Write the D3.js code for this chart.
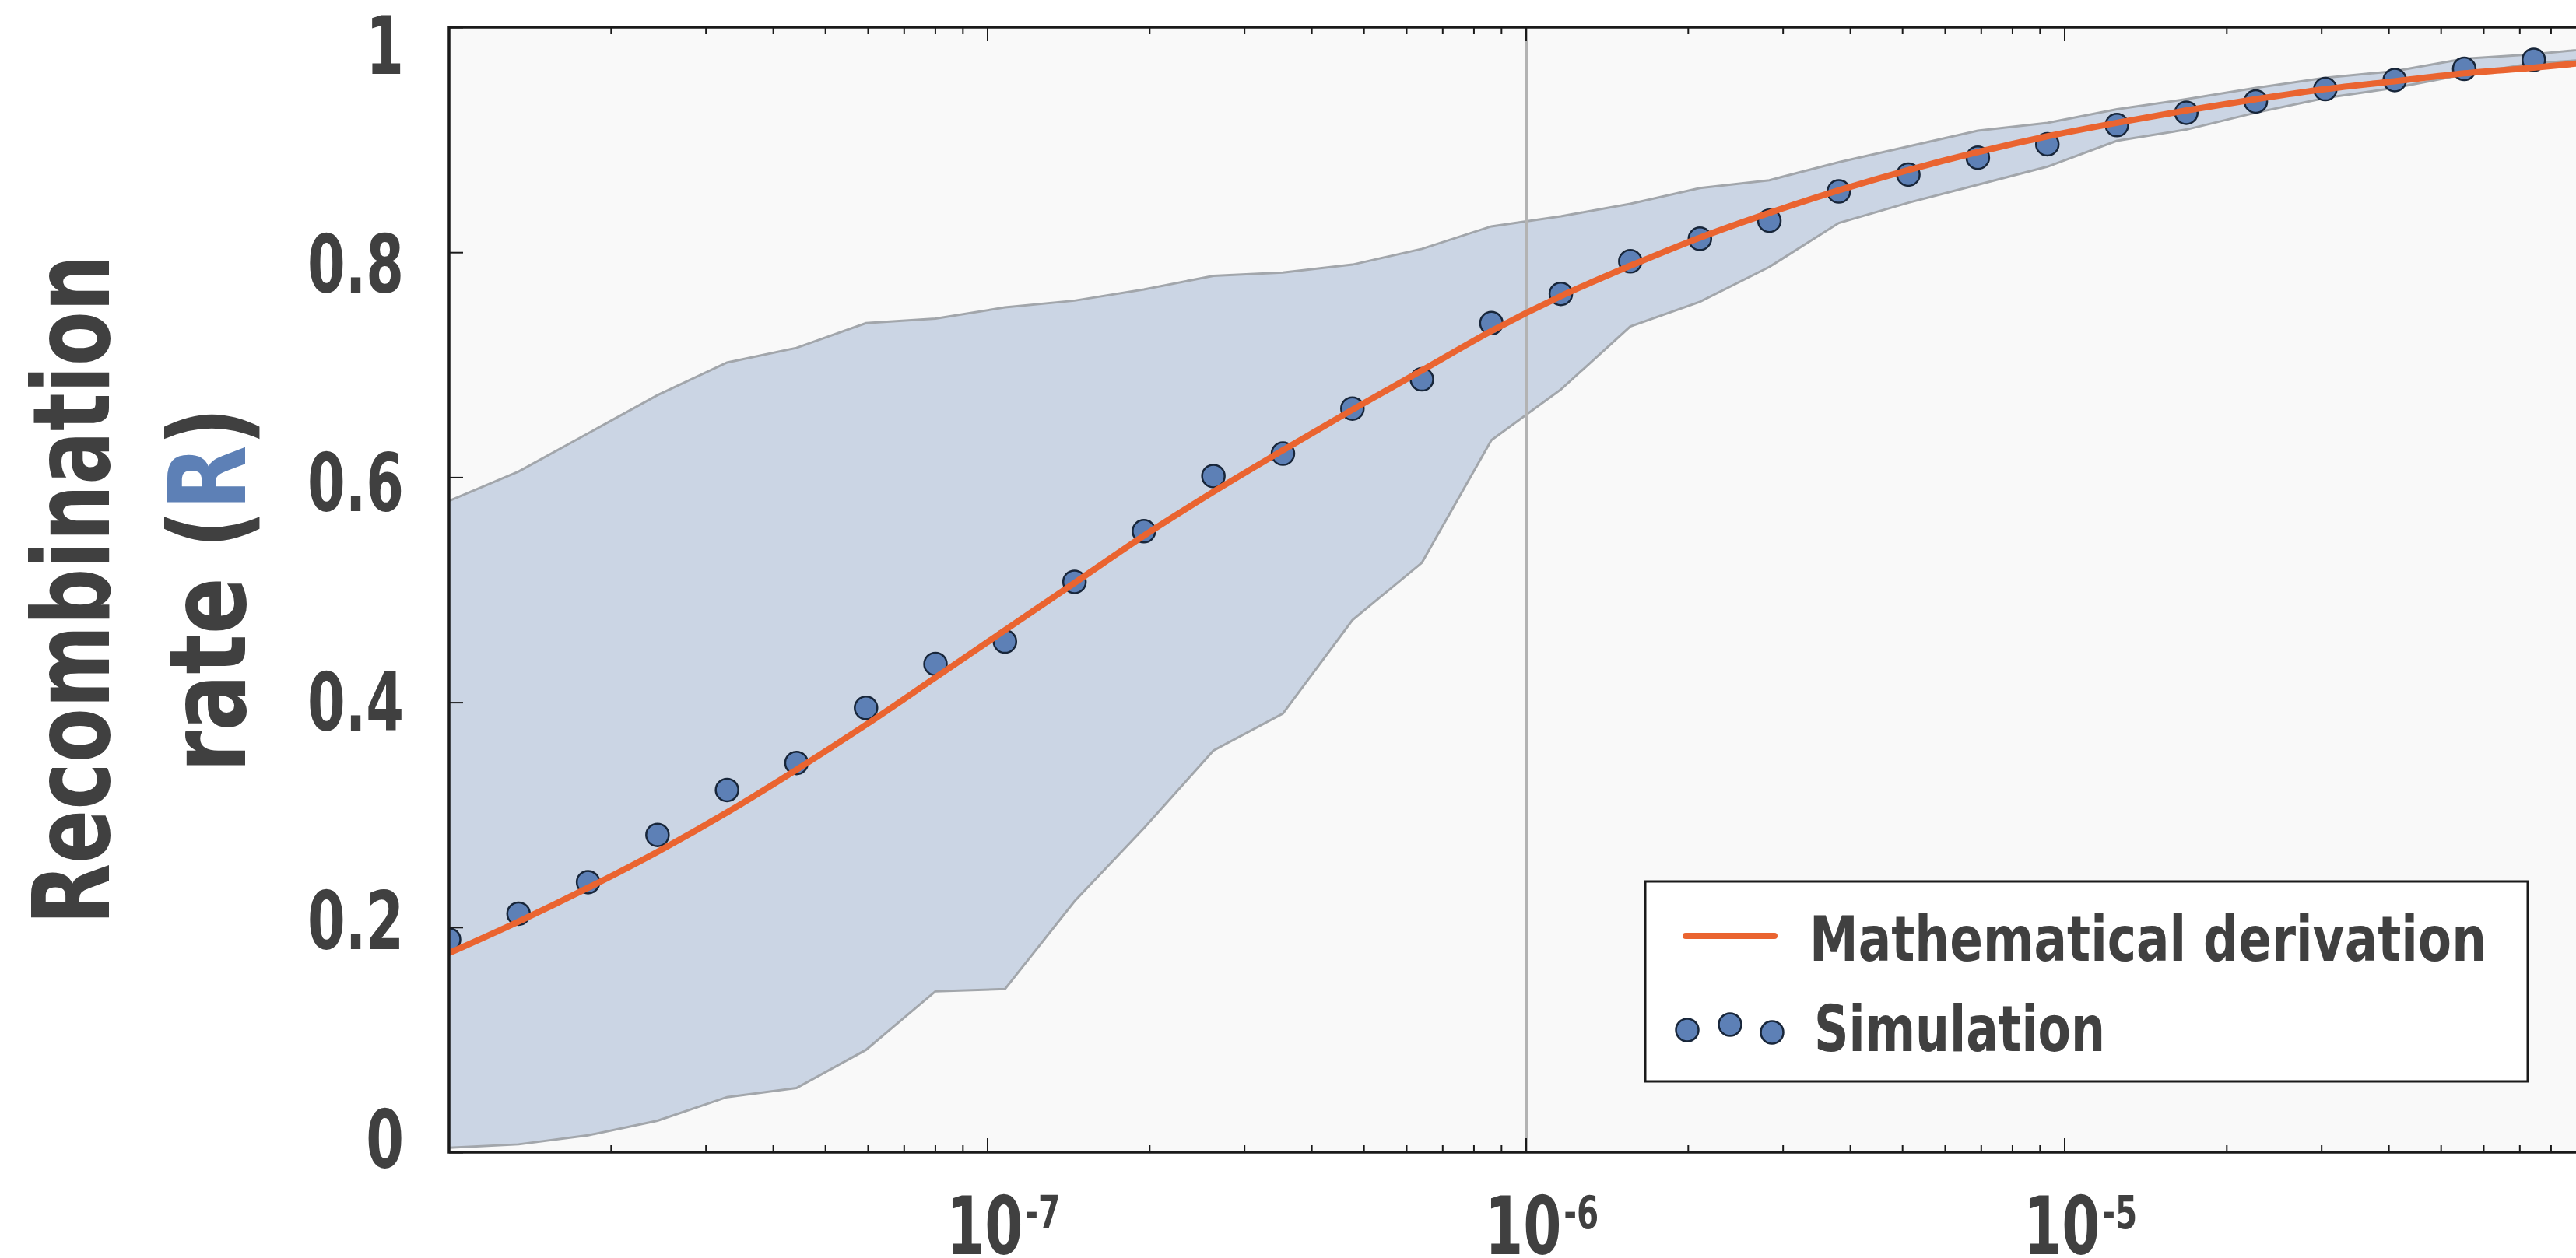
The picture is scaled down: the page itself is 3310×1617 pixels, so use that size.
<html lang="en">
<head>
  <meta charset="UTF-8">
  <title>Recombination rate</title>
  <script src="https://d3js.org/d3.v7.min.js"></script>
</head>
<style>
  body { margin: 0; background: white; }
  text { font-family: "DejaVu Sans", sans-serif; font-weight: bold; fill: #404040; }
</style>
<body>
  <svg class="graph" width="3310" height="1617"></svg>
  <script>
    // x positions of the simulated points (log spaced)
    const xValues = [1.000e-8, 1.346e-8, 1.812e-8, 2.438e-8, 3.282e-8, 4.417e-8, 5.946e-8, 8.003e-8,
      1.077e-7, 1.450e-7, 1.951e-7, 2.626e-7, 3.535e-7, 4.758e-7, 6.404e-7, 8.619e-7,
      1.160e-6, 1.561e-6, 2.102e-6, 2.829e-6, 3.807e-6, 5.125e-6, 6.898e-6, 9.285e-6,
      1.250e-5, 1.682e-5, 2.264e-5, 3.047e-5, 4.101e-5, 5.520e-5, 7.430e-5, 1.000e-4];
    const simValues = [0.189, 0.212, 0.240, 0.282, 0.322, 0.346, 0.395, 0.434,
      0.454, 0.507, 0.552, 0.601, 0.621, 0.661, 0.687, 0.737,
      0.763, 0.792, 0.812, 0.828, 0.854, 0.869, 0.884, 0.896,
      0.913, 0.924, 0.934, 0.945, 0.953, 0.963, 0.971, 0.979];
    const mathValues = [0.177, 0.205, 0.235, 0.267, 0.302, 0.340, 0.380, 0.422,
      0.464, 0.506, 0.548, 0.587, 0.624, 0.660, 0.695, 0.730,
      0.761, 0.788, 0.813, 0.835, 0.855, 0.873, 0.889, 0.903,
      0.915, 0.926, 0.936, 0.945, 0.952, 0.959, 0.964, 0.970];
    const upperValues = [0.579, 0.605, 0.639, 0.673, 0.702, 0.715, 0.737, 0.741,
      0.751, 0.757, 0.767, 0.779, 0.782, 0.789, 0.803, 0.823,
      0.832, 0.843, 0.857, 0.864, 0.880, 0.894, 0.908, 0.915,
      0.927, 0.936, 0.946, 0.955, 0.961, 0.972, 0.976, 0.982];
    const lowerValues = [0.004, 0.007, 0.015, 0.028, 0.049, 0.057, 0.091, 0.143,
      0.145, 0.223, 0.288, 0.357, 0.390, 0.473, 0.524, 0.633,
      0.678, 0.734, 0.756, 0.787, 0.826, 0.844, 0.860, 0.876,
      0.899, 0.909, 0.924, 0.937, 0.946, 0.958, 0.968, 0.972];

    const yTickValues = [0, 0.2, 0.4, 0.6, 0.8, 1];
    const yTickLabels = ["0", "0.2", "0.4", "0.6", "0.8", "1"];
    const xTickValues = [1e-7, 1e-6, 1e-5];
    const xTickBases = ["10", "10", "10"];
    const xTickExponents = ["-7", "-6", "-5"];
    const markerX = 1e-6;
    const legendLabels = ["Mathematical derivation", "Simulation"];

    const svg = d3.select('svg.graph');
    const margins = { top: 35, left: 577, bottom: 136 };
    const plotRight = 3345; // plot continues past the picture edge
    const plotBottom = 1617 - margins.bottom;

    const xScale = d3.scaleLog().domain([1e-8, 1e-4]).range([margins.left, plotRight]);
    const yScale = d3.scaleLinear().domain([0, 1]).range([plotBottom, margins.top]);
    // the tick labels sit a little tighter than the ticks
    const yLabelScale = d3.scaleLinear().domain([0, 1]).range([1464, 58]);

    // the original font is a condensed one, squeeze DejaVu to match
    function squeeze(sel, factor) {
      sel.each(function () {
        const w = this.getComputedTextLength();
        d3.select(this).attr('textLength', w * factor).attr('lengthAdjust', 'spacingAndGlyphs');
      });
    }

    const data = xValues.map((x, i) => ({ x: x, sim: simValues[i], math: mathValues[i], lo: lowerValues[i], hi: upperValues[i] }));

    svg.append('defs').append('clipPath').attr('id', 'plotclip')
      .append('rect')
      .attr('x', margins.left).attr('y', margins.top)
      .attr('width', plotRight - margins.left).attr('height', plotBottom - margins.top);

    svg.append('rect')
      .attr('x', margins.left).attr('y', margins.top)
      .attr('width', plotRight - margins.left).attr('height', plotBottom - margins.top)
      .attr('fill', '#f9f9f9');

    const chartArea = svg.append('g').attr('clip-path', 'url(#plotclip)');

    //band
    const band = d3.area()
      .x(d => xScale(d.x))
      .y0(d => yScale(d.lo))
      .y1(d => yScale(d.hi));
    chartArea.append('path').datum(data)
      .attr('d', band)
      .attr('fill', '#cbd5e4');
    ['lo', 'hi'].forEach(k => {
      chartArea.append('path').datum(data)
        .attr('d', d3.line().x(d => xScale(d.x)).y(d => yScale(d[k])))
        .attr('fill', 'none')
        .attr('stroke', '#a2a6ab')
        .attr('stroke-width', 3);
    });

    //vertical marker
    chartArea.append('line')
      .attr('x1', xScale(markerX)).attr('x2', xScale(markerX))
      .attr('y1', margins.top).attr('y2', plotBottom)
      .attr('stroke', '#b3b3b3')
      .attr('stroke-width', 4);

    //simulation points
    chartArea.selectAll('circle.sim').data(data).enter()
      .append('circle')
      .attr('class', 'sim')
      .attr('cx', d => xScale(d.x))
      .attr('cy', d => yScale(d.sim))
      .attr('r', 14.5)
      .attr('fill', '#5d80b6')
      .attr('stroke', '#18263a')
      .attr('stroke-width', 2.5);

    //math curve
    chartArea.append('path').datum(data)
      .attr('d', d3.line().curve(d3.curveMonotoneX).x(d => xScale(d.x)).y(d => yScale(d.math)))
      .attr('fill', 'none')
      .attr('stroke', '#ea6430')
      .attr('stroke-width', 8);

    //axes
    const axisColor = '#1a1a1a';
    const majorX = xScale.ticks().filter(v => Math.abs(Math.log10(v) - Math.round(Math.log10(v))) < 1e-9);
    const minorX = xScale.ticks().filter(v => majorX.indexOf(v) < 0);

    function drawXTicks(y, dir) {
      const g = svg.append('g');
      g.selectAll('line.major').data(majorX).enter().append('line')
        .attr('x1', d => xScale(d)).attr('x2', d => xScale(d))
        .attr('y1', y).attr('y2', y + dir * 18)
        .attr('stroke', axisColor).attr('stroke-width', 2);
      g.selectAll('line.minor').data(minorX).enter().append('line')
        .attr('x1', d => xScale(d)).attr('x2', d => xScale(d))
        .attr('y1', y).attr('y2', y + dir * 9)
        .attr('stroke', axisColor).attr('stroke-width', 2);
    }
    drawXTicks(plotBottom, -1);
    drawXTicks(margins.top, 1);

    const leftAxis = d3.axisRight(yScale).tickValues(yTickValues).tickSize(18).tickFormat('');
    svg.append('g')
      .attr('transform', `translate(${margins.left},0)`)
      .call(leftAxis)
      .call(g => g.select('.domain').remove())
      .selectAll('line').attr('stroke', axisColor).attr('stroke-width', 2);

    svg.append('path')
      .attr('d', `M${plotRight},${margins.top}H${margins.left}V${plotBottom}H${plotRight}`)
      .attr('fill', 'none')
      .attr('stroke', axisColor)
      .attr('stroke-width', 3.5);

    //y labels
    svg.selectAll('text.ylab').data(yTickValues).enter()
      .append('text')
      .attr('class', 'ylab')
      .attr('x', 519)
      .attr('y', d => yLabelScale(d) + 37)
      .attr('text-anchor', 'end')
      .attr('font-size', 103)
      .text((d, i) => yTickLabels[i])
      .call(squeeze, 0.68);

    //x labels: 10 with a raised exponent, one text each
    xTickValues.forEach((v, i) => {
      const x = xScale(v);
      const t = svg.append('text')
        .attr('x', x - 53).attr('y', 1612)
        .attr('font-size', 103);
      t.append('tspan').text(xTickBases[i]);
      t.append('tspan')
        .attr('dx', 4).attr('dy', -33)
        .attr('font-size', 59)
        .text(xTickExponents[i]);
      t.call(squeeze, 0.70);
    });

    //y title
    const title = svg.append('g').attr('transform', 'translate(0,758) rotate(-90)');
    title.append('text')
      .attr('x', 0).attr('y', 140)
      .attr('text-anchor', 'middle')
      .attr('font-size', 137)
      .attr('textLength', 861)
      .attr('lengthAdjust', 'spacingAndGlyphs')
      .text('Recombination');
    const t2 = title.append('text')
      .attr('x', 0).attr('y', 315)
      .attr('text-anchor', 'middle')
      .attr('font-size', 137)
      .attr('textLength', 469)
      .attr('lengthAdjust', 'spacingAndGlyphs');
    t2.append('tspan').text('rate (');
    t2.append('tspan').style('fill', '#5d80b6').text('R');
    t2.append('tspan').text(')');

    //legend
    const legend = svg.append('g');
    legend.append('rect')
      .attr('x', 2114).attr('y', 1133)
      .attr('width', 1134).attr('height', 257)
      .attr('fill', 'white')
      .attr('stroke', axisColor)
      .attr('stroke-width', 3);
    legend.append('line')
      .attr('x1', 2166).attr('x2', 2280)
      .attr('y1', 1203).attr('y2', 1203)
      .attr('stroke', '#ea6430')
      .attr('stroke-width', 8)
      .attr('stroke-linecap', 'round');
    legend.append('text')
      .attr('x', 2325).attr('y', 1235)
      .attr('font-size', 80)
      .attr('textLength', 870)
      .attr('lengthAdjust', 'spacingAndGlyphs')
      .text(legendLabels[0]);
    [[2168, 1324], [2223, 1317], [2277, 1327]].forEach(p => {
      legend.append('circle')
        .attr('cx', p[0]).attr('cy', p[1])
        .attr('r', 14.5)
        .attr('fill', '#5d80b6')
        .attr('stroke', '#18263a')
        .attr('stroke-width', 2.5);
    });
    legend.append('text')
      .attr('x', 2331).attr('y', 1351)
      .attr('font-size', 82)
      .attr('textLength', 374)
      .attr('lengthAdjust', 'spacingAndGlyphs')
      .text(legendLabels[1]);
  </script>
</body>
</html>
